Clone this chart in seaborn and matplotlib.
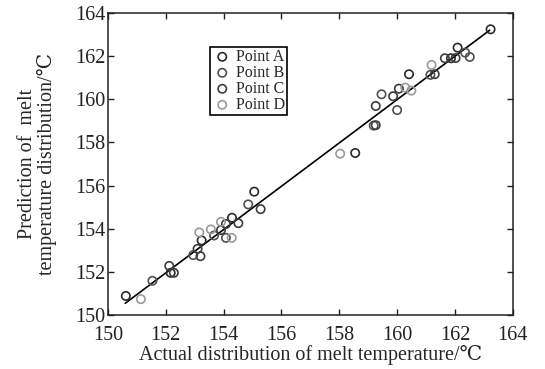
import matplotlib
matplotlib.use("Agg")
import matplotlib.pyplot as plt
import seaborn as sns
import pandas as pd

# values (actual, predicted)
x_a = [150.62, 152.17, 153.24, 154.29, 155.06, 158.55, 160.41, 162.09, 161.86, 163.23]
y_a = [150.89, 151.96, 153.46, 154.51, 155.72, 157.51, 161.16, 162.39, 161.90, 163.24]
x_b = [151.54, 152.95, 153.67, 154.08, 154.85, 159.19, 159.46, 160.00, 161.15, 162.35, 162.51]
y_b = [151.59, 152.78, 153.69, 153.58, 155.13, 158.78, 160.23, 159.50, 161.13, 162.16, 161.96]
x_c = [152.12, 152.28, 153.10, 153.20, 153.91, 154.08, 154.51, 155.28, 159.26, 159.26,
       159.86, 160.06, 161.30, 161.65, 162.02]
y_c = [152.28, 151.96, 153.07, 152.73, 153.94, 154.22, 154.26, 154.91, 158.80, 159.69,
       160.14, 160.49, 161.16, 161.90, 161.91]
x_d = [151.14, 153.16, 153.56, 153.91, 154.28, 158.03, 160.28, 160.49, 161.19]
y_d = [150.74, 153.83, 153.97, 154.32, 153.58, 157.48, 160.54, 160.40, 161.59]

fit_x = [150.6, 163.2]
fit_y = [150.55, 163.2]

labels = ["Point A", "Point B", "Point C", "Point D"]
colors = ["#2a2a2a", "#505050", "#3c3c3c", "#9a9a9a"]

sns.set_style("ticks")
plt.rcParams["font.family"] = ["Liberation Serif", "DejaVu Serif", "DejaVu Sans"]

fig = plt.figure(figsize=(5.45, 3.69), dpi=100)
ax = fig.add_axes([0.198, 0.146, 0.743, 0.819])

sns.lineplot(x=fit_x, y=fit_y, color="black", linewidth=1.2, ax=ax)

groups = [(x_a, y_a), (x_b, y_b), (x_c, y_c), (x_d, y_d)]
for (xs, ys), lab, col in zip(groups, labels, colors):
    df = pd.DataFrame({"x": xs, "y": ys})
    sns.scatterplot(data=df, x="x", y="y", marker="o", s=36, color=col,
                    facecolors="none", edgecolor=col, linewidth=1.2,
                    label=lab, ax=ax, zorder=3)

ax.set_xlim(150, 164)
ax.set_ylim(150, 164)
ax.set_xticks(range(150, 165, 2))
ax.set_yticks(range(150, 165, 2))
ax.tick_params(direction="in", length=4, width=1, top=True, right=True,
               labelsize=14.5, colors="#222222")
ax.tick_params(axis="x", pad=8)
ax.tick_params(axis="y", pad=2)
for sp in ax.spines.values():
    sp.set_visible(True)
    sp.set_linewidth(1.1)
    sp.set_color("#222222")

ax.set_xlabel("Actual distribution of melt temperature/℃", fontsize=14.5, labelpad=0)
ax.set_ylabel("Prediction of  melt\ntemperature distribution/℃", fontsize=14.5,
              labelpad=13, linespacing=0.95)

leg = ax.legend(loc="upper left", bbox_to_anchor=(0.252, 0.887), fontsize=11.5,
                frameon=True, fancybox=False, edgecolor="black", framealpha=1,
                borderpad=0.12, labelspacing=0.0, handletextpad=0.2,
                handlelength=1.3, borderaxespad=0)
leg.get_frame().set_linewidth(1.2)

fig.savefig("out.png", dpi=100)
